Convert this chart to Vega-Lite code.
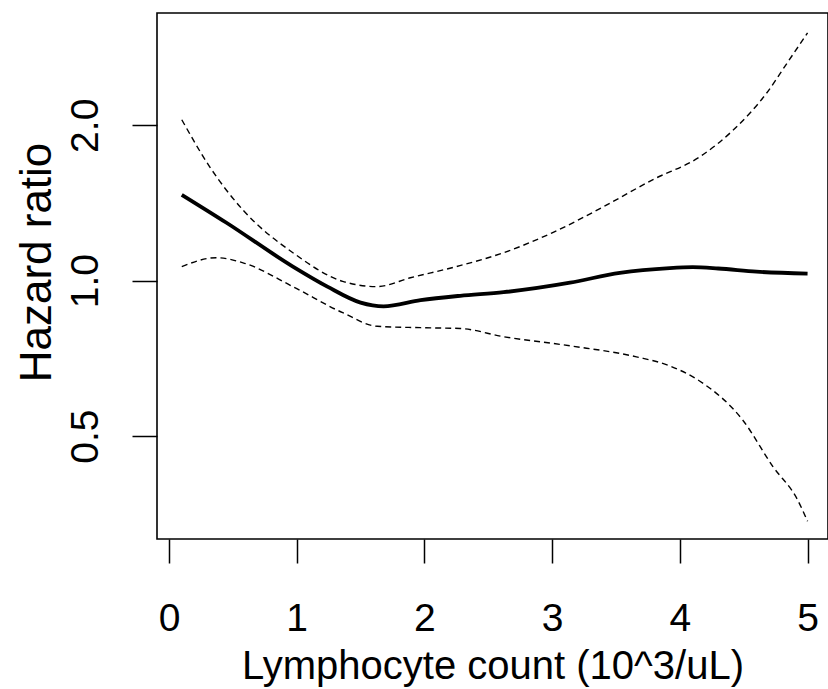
{
  "$schema": "https://vega.github.io/schema/vega-lite/v6.json",
  "autosize": {"type": "none"},
  "width": 671,
  "height": 526,
  "padding": {"left": 157, "top": 13, "right": 0, "bottom": 150},
  "background": "white",
  "config": {
    "view": {"stroke": "black", "strokeWidth": 1.6},
    "axis": {"grid": false, "domain": false, "tickColor": "black", "tickWidth": 1.5, "labelColor": "black", "titleColor": "black", "labelFont": "Liberation Sans", "titleFont": "Liberation Sans", "labelFontSize": 39, "titleFontSize": 40, "titleFontWeight": "normal", "labelFlush": false, "labelOverlap": false, "labelBound": false}
  },
  "data": {"values": [
    {"x": 0.1, "y": 1.467, "s": "est"},
    {"x": 0.45, "y": 1.295, "s": "est"},
    {"x": 0.97, "y": 1.065, "s": "est"},
    {"x": 1.24, "y": 0.974, "s": "est"},
    {"x": 1.5, "y": 0.907, "s": "est"},
    {"x": 1.68, "y": 0.892, "s": "est"},
    {"x": 1.97, "y": 0.917, "s": "est"},
    {"x": 2.28, "y": 0.935, "s": "est"},
    {"x": 2.62, "y": 0.95, "s": "est"},
    {"x": 3.14, "y": 0.991, "s": "est"},
    {"x": 3.53, "y": 1.036, "s": "est"},
    {"x": 3.92, "y": 1.058, "s": "est"},
    {"x": 4.1, "y": 1.062, "s": "est"},
    {"x": 4.3, "y": 1.056, "s": "est"},
    {"x": 4.6, "y": 1.041, "s": "est"},
    {"x": 5.0, "y": 1.032, "s": "est"},
    {"x": 0.1, "y": 2.05, "s": "upper"},
    {"x": 0.32, "y": 1.66, "s": "upper"},
    {"x": 0.58, "y": 1.37, "s": "upper"},
    {"x": 0.97, "y": 1.133, "s": "upper"},
    {"x": 1.36, "y": 0.997, "s": "upper"},
    {"x": 1.63, "y": 0.974, "s": "upper"},
    {"x": 1.89, "y": 1.013, "s": "upper"},
    {"x": 2.25, "y": 1.065, "s": "upper"},
    {"x": 2.62, "y": 1.133, "s": "upper"},
    {"x": 3.0, "y": 1.238, "s": "upper"},
    {"x": 3.4, "y": 1.39, "s": "upper"},
    {"x": 3.79, "y": 1.57, "s": "upper"},
    {"x": 4.16, "y": 1.74, "s": "upper"},
    {"x": 4.42, "y": 1.96, "s": "upper"},
    {"x": 4.68, "y": 2.31, "s": "upper"},
    {"x": 4.84, "y": 2.64, "s": "upper"},
    {"x": 5.0, "y": 3.02, "s": "upper"},
    {"x": 0.1, "y": 1.065, "s": "lower"},
    {"x": 0.37, "y": 1.108, "s": "lower"},
    {"x": 0.58, "y": 1.083, "s": "lower"},
    {"x": 0.97, "y": 0.974, "s": "lower"},
    {"x": 1.36, "y": 0.867, "s": "lower"},
    {"x": 1.63, "y": 0.816, "s": "lower"},
    {"x": 1.97, "y": 0.811, "s": "lower"},
    {"x": 2.28, "y": 0.808, "s": "lower"},
    {"x": 2.62, "y": 0.779, "s": "lower"},
    {"x": 3.14, "y": 0.748, "s": "lower"},
    {"x": 3.66, "y": 0.712, "s": "lower"},
    {"x": 3.92, "y": 0.684, "s": "lower"},
    {"x": 4.16, "y": 0.638, "s": "lower"},
    {"x": 4.49, "y": 0.538, "s": "lower"},
    {"x": 4.73, "y": 0.436, "s": "lower"},
    {"x": 4.92, "y": 0.377, "s": "lower"},
    {"x": 5.0, "y": 0.342, "s": "lower"}
  ]},
  "encoding": {
    "x": {"field": "x", "type": "quantitative",
      "scale": {"domain": [-0.094, 5.16], "nice": false, "zero": false},
      "axis": {"values": [0, 1, 2, 3, 4, 5], "format": "d", "tickSize": 24, "labelPadding": 67, "labelBaseline": "alphabetic", "title": "Lymphocyte count (10^3/uL)", "titleBaseline": "alphabetic", "titleY": 139}},
    "y": {"field": "y", "type": "quantitative",
      "scale": {"type": "log", "domain": [0.316, 3.3], "nice": false, "zero": false},
      "axis": {"values": [0.5, 1, 2], "format": ".1f", "tickSize": 25, "labelAngle": 270, "labelAlign": "center", "labelBaseline": "alphabetic", "labelPadding": 35, "title": "Hazard ratio", "titleFontSize": 44, "titleAngle": 270, "titleAlign": "center", "titleBaseline": "alphabetic", "titleX": -107, "titleY": 249}}
  },
  "layer": [
    {
      "transform": [{"filter": "datum.s == 'est'"}],
      "mark": {"type": "line", "color": "black", "strokeWidth": 3.8, "interpolate": "monotone"}
    },
    {
      "transform": [{"filter": "datum.s != 'est'"}],
      "mark": {"type": "line", "color": "black", "strokeWidth": 1.4, "strokeDash": [6, 4], "interpolate": "monotone"},
      "encoding": {"detail": {"field": "s"}}
    }
  ]
}
